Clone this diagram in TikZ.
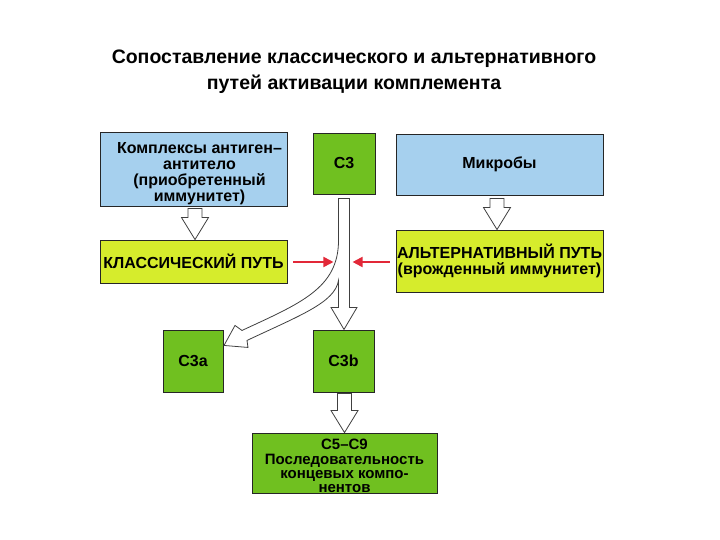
\documentclass[tikz,border=0pt]{standalone}
\usepackage{fontspec}
\setmainfont{Liberation Sans}
\usetikzlibrary{arrows.meta,calc}
\definecolor{boxblue}{RGB}{166,208,238}
\definecolor{boxgreen}{RGB}{112,192,32}
\definecolor{boxyellow}{RGB}{214,236,44}
\definecolor{redarr}{RGB}{226,40,56}
\tikzset{
  boxfont/.style={font=\fontsize{16}{16}\selectfont\bfseries},
  box/.style={draw=black!85, line width=0.9pt, inner sep=0pt, align=center, boxfont},
  bluebox/.style={box, fill=boxblue},
  greenbox/.style={box, fill=boxgreen},
  yellowbox/.style={box, fill=boxyellow},
  boxtext/.style={align=center, inner sep=0pt, boxfont},
  hollow/.style={draw=black!75, fill=white, line width=0.8pt, line join=miter},
  redarrow/.style={draw=redarr, line width=1.8pt, -{Triangle[length=10pt,width=10pt]}},
  titletext/.style={font=\fontsize{19.5}{26}\selectfont\bfseries, align=center, inner sep=0pt}
}
\newcommand\hollowdown[2]{%
  \draw[hollow] let \p1=(#1), \p2=(#2) in
    (\x1-7pt,\y1) -- (\x1+7pt,\y1) -- (\x1+7pt,\y2+22pt) -- (\x1+13.5pt,\y2+22pt)
    -- (\x1,\y2) -- (\x1-13.5pt,\y2+22pt) -- (\x1-7pt,\y2+22pt) -- cycle;}
\begin{document}
\begin{tikzpicture}[x=1pt,y=-1pt]
\useasboundingbox (0,0) rectangle (720,540);
\fill[white] (0,0) rectangle (720,540);

\node[titletext] (title) at (354,72)
  {Сопоставление классического и альтернативного\\путей активации комплемента};

\node[bluebox, minimum width=187pt, minimum height=74pt] (kompl) at (193.5,169) {};
\node[boxtext] (kompltext) at ($(kompl.center)+(6,4.5)$)
  {Комплексы антиген–\\антитело\\(приобретенный\\иммунитет)};
\node[greenbox, minimum width=62pt, minimum height=61pt] (c3) at (344,163.5) {C3};
\node[bluebox, minimum width=207pt, minimum height=61pt] (mikr) at (499.5,164.5) {Микробы};
\node[yellowbox, minimum width=187pt, minimum height=43pt] (klass) at (193.5,261.5)
  {КЛАССИЧЕСКИЙ ПУТЬ};
\node[yellowbox, minimum width=207pt, minimum height=62pt] (alt) at (499.5,261)
  {АЛЬТЕРНАТИВНЫЙ ПУТЬ\\(врожденный иммунитет)};
\node[greenbox, minimum width=60pt, minimum height=62pt] (c3a) at (193,361) {C3a};
\node[greenbox, minimum width=61pt, minimum height=62pt] (c3b) at (343.5,361) {C3b};
\node[greenbox, minimum width=185pt, minimum height=60pt] (c5) at (344.5,463) {};
\node[boxtext, font=\fontsize{15}{14.3}\selectfont\bfseries] (c5text) at ($(c5.center)+(0,3)$)
  {C5–C9\\Последовательность\\концевых компо-\\нентов};

% hollow arrows
\hollowdown{$(kompl.south)+(1.5,2)$}{klass.north}
\hollowdown{$(mikr.south)+(-2.5,3)$}{alt.north}
\hollowdown{$(c3b.south)+(1,1)$}{c5.north}

% split stream from C3 to C3a and C3b
\begin{scope}[shift={(c3.south)}]
  \draw[hollow] (-5.5,4) -- (-5.5,46)
    .. controls (-5.5,94) and (-44,109) .. (-102,136)
    -- (-109,131) -- (-120,151) -- (-96,153) -- (-97,146)
    .. controls (-44,121) and (-9,108) .. (-5.5,86)
    -- (-5.5,113) -- (-13,113) -- (0,135) -- (13,113) -- (5.5,113)
    -- (5.5,4) -- cycle;
\end{scope}

% red arrows
\coordinate (redL) at ($(klass.east)+(46,0.5)$);
\coordinate (redR) at ($(alt.west)+(-43,1)$);
\draw[redarrow] ($(klass.east)+(6,0.5)$) -- (redL);
\draw[redarrow] ($(alt.west)+(-6,1)$) -- (redR);
\end{tikzpicture}
\end{document}
